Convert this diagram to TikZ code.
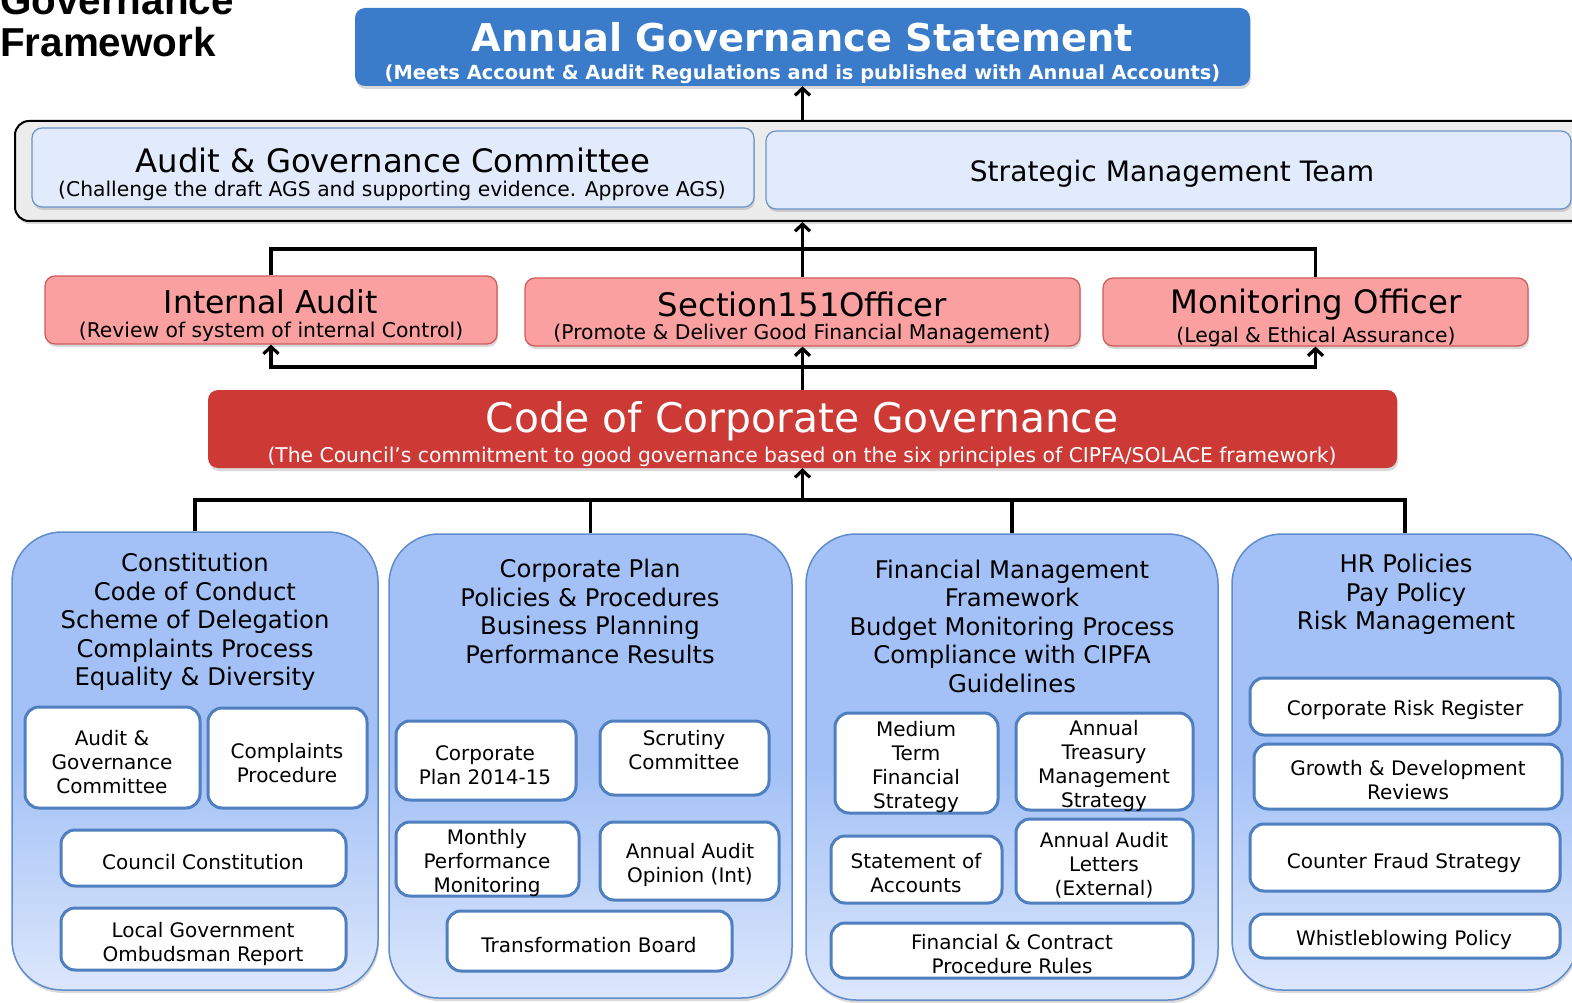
\documentclass[tikz,border=0pt]{standalone}
\usepackage{fontspec}
\setmainfont{DejaVu Sans}
\newfontfamily\titlefont{Liberation Sans}
\usetikzlibrary{arrows.meta,shadows,fit}
\definecolor{agsblue}{RGB}{58,123,202}
\definecolor{contgray}{RGB}{236,236,236}
\definecolor{lbfill}{RGB}{225,235,252}
\definecolor{lbdraw}{RGB}{108,147,201}
\definecolor{pkfill}{RGB}{250,160,160}
\definecolor{pkdraw}{RGB}{205,90,90}
\definecolor{codered}{RGB}{205,58,54}
\definecolor{coltop}{RGB}{163,193,246}
\definecolor{colbot}{RGB}{220,231,252}
\definecolor{coldraw}{RGB}{95,140,205}
\definecolor{ibdraw}{RGB}{79,127,190}
\newcommand\fs[2]{\fontsize{#1}{#2}\selectfont}
\newcommand\bx[6]{\node[#1, fit={(#3,#4) (#5,#6)}, inner sep=0pt] (#2) {};}
\newcommand\tx[5]{\node[txt,#4] (#1) at (#2,#3) {#5};}
\begin{document}
\begin{tikzpicture}[x=1pt,y=-1pt,
 conn/.style={line width=3.2pt, black},
 arr/.style={conn, -{Straight Barb[length=7pt,width=15pt]}},
 shad/.style={drop shadow={opacity=0.3,shadow xshift=1pt,shadow yshift=-3pt}},
 agsbox/.style={fill=agsblue, rounded corners=10pt, shad},
 contbox/.style={fill=contgray, draw=black, line width=2pt, rounded corners=14pt, shad},
 lbbox/.style={fill=lbfill, draw=lbdraw, line width=1.2pt, rounded corners=10pt, shad},
 pkbox/.style={fill=pkfill, draw=pkdraw, line width=1.2pt, rounded corners=10pt, shad},
 codebox/.style={fill=codered, rounded corners=10pt, shad},
 colbox/.style={draw=coldraw, line width=1.5pt, rounded corners=50pt, top color=coltop, bottom color=colbot, middle color=coltop, shad},
 ibox/.style={draw=ibdraw, fill=white, line width=3pt, rounded corners=14pt},
 txt/.style={align=center, inner sep=0pt, yshift=-3pt},
 hd/.style={font=\fs{24.3}{28.5}},
 it/.style={font=\fs{20}{24}},
 big/.style={font=\fs{32.3}{36}},
 sub/.style={font=\fs{20.3}{24}},
]
\useasboundingbox (0,0) rectangle (1572,1003);
\clip (0,0) rectangle (1572,1003);

% title
\node[anchor=base west, inner sep=0pt, font=\titlefont\bfseries\fs{40.4}{44}] (ttl1) at (0,15) {Governance};
\node[anchor=base west, inner sep=0pt, font=\titlefont\bfseries\fs{40.4}{44}] (ttl2) at (0,57) {Framework};

% boxes
\bx{agsbox}{ags}{355}{8}{1250}{86}
\bx{contbox}{cont}{15}{121}{1590}{221}
\bx{lbbox}{agc}{32}{128}{754}{207}
\bx{lbbox}{smt}{766}{131}{1571}{209}
\bx{pkbox}{ia}{45}{276}{497}{344}
\bx{pkbox}{s151}{525}{278}{1080}{346}
\bx{pkbox}{mo}{1103}{278}{1528}{346}
\bx{codebox}{code}{208}{390}{1397}{468}
\bx{colbox}{c1}{12}{532}{378}{990}
\bx{colbox}{c2}{389}{534}{792}{998}
\bx{colbox}{c3}{806}{534}{1218}{1000}
\bx{colbox}{c4}{1232}{534}{1578}{990}

% connectors
\draw[arr] (cont.north) -- (ags.south);
\coordinate (bt) at (802.5,249);
\draw[conn] (ia.north) |- (bt) -| (mo.north);
\draw[arr] (s151.north) -- (cont.south);
\coordinate (bb) at (802.5,367);
\draw[arr] (code.north) -- (s151.south);
\draw[arr] (bb) -| (ia.south);
\draw[arr] (bb) -| (mo.south);
\coordinate (bc) at (802.5,500);
\draw[arr] (bc) -- (code.south);
\draw[conn] (c1.north) |- (bc) -| (c4.north);
\draw[conn] (c2.north) |- (bc);
\draw[conn] (c3.north) |- (bc);

% top texts
\tx{agst}{802.5}{34}{font=\bfseries\fs{38.3}{42}, text=white}{Annual Governance Statement}
\tx{agss}{802.5}{71}{font=\bfseries\fs{19.4}{22}, text=white}{(Meets Account \& Audit Regulations and is published with Annual Accounts)}
\tx{agct}{393}{157}{big}{Audit \& Governance Committee}
\tx{agcs}{392}{188}{sub}{(Challenge the draft AGS and supporting evidence. Approve AGS)}
\tx{smtt}{1172}{171}{font=\fs{28.1}{32}}{Strategic Management Team}
\tx{iat}{271}{299}{font=\fs{31.5}{36}}{Internal Audit}
\tx{ias}{271}{329}{sub}{(Review of system of internal Control)}
\tx{s151t}{802.5}{301}{big}{Section151Officer}
\tx{s151s}{802}{331}{sub}{(Promote \& Deliver Good Financial Management)}
\tx{mot}{1316}{302}{big}{Monitoring Officer}
\tx{mos}{1316}{334}{sub}{(Legal \& Ethical Assurance)}
\tx{codet}{802}{418}{font=\fs{40.8}{44}, text=white}{Code of Corporate Governance}
\tx{codes}{802}{454}{sub, text=white}{(The Council’s commitment to good governance based on the six principles of CIPFA/SOLACE framework)}

% column 1
\tx{c1h}{195}{619}{hd}{Constitution\\Code of Conduct\\Scheme of Delegation\\Complaints Process\\Equality \& Diversity}
\bx{ibox}{b11}{25}{707}{200}{808}
\bx{ibox}{b12}{208}{708}{367}{808}
\bx{ibox}{b13}{61}{830}{346}{886}
\bx{ibox}{b14}{61}{908}{346}{970}
\tx{t11}{112}{759}{it}{Audit \&\\Governance\\Committee}
\tx{t12}{287}{760}{it}{Complaints\\Procedure}
\tx{t13}{203}{859}{it}{Council Constitution}
\tx{t14}{203}{941}{it}{Local Government\\Ombudsman Report}

% column 2
\tx{c2h}{590}{608.5}{hd}{Corporate Plan\\Policies \& Procedures\\Business Planning\\Performance Results}
\bx{ibox}{b21}{396}{721}{576}{800}
\bx{ibox}{b22}{600}{721}{769}{795}
\bx{ibox}{b23}{396}{822}{579}{896}
\bx{ibox}{b24}{600}{822}{779}{900}
\bx{ibox}{b25}{447}{911}{732}{971}
\tx{t21}{485}{762}{it}{Corporate\\Plan 2014-15}
\tx{t22}{684}{747.5}{it}{Scrutiny\\Committee}
\tx{t23}{487}{860}{it}{Monthly\\Performance\\Monitoring}
\tx{t24}{690}{862}{it}{Annual Audit\\Opinion (Int)}
\tx{t25}{589}{942}{it}{Transformation Board}

% column 3
\tx{c3h}{1012}{623}{hd}{Financial Management\\Framework\\Budget Monitoring Process\\Compliance with CIPFA\\Guidelines}
\bx{ibox}{b31}{835}{713}{998}{813}
\bx{ibox}{b32}{1016}{713}{1193}{810}
\bx{ibox}{b33}{831}{836}{1002}{903}
\bx{ibox}{b34}{1016}{819}{1193}{903}
\bx{ibox}{b35}{831}{923}{1193}{978}
\tx{t31}{916}{763.5}{it}{Medium\\Term\\Financial\\Strategy}
\tx{t32}{1104}{762.5}{it}{Annual\\Treasury\\Management\\Strategy}
\tx{t33}{916}{870}{it}{Statement of\\Accounts}
\tx{t34}{1104}{862}{it}{Annual Audit\\Letters\\(External)}
\tx{t35}{1012}{951.5}{it}{Financial \& Contract\\Procedure Rules}

% column 4
\tx{c4h}{1406}{591.5}{hd}{HR Policies\\Pay Policy\\Risk Management}
\bx{ibox}{b41}{1250}{678}{1560}{735}
\bx{ibox}{b42}{1254}{744}{1562}{809}
\bx{ibox}{b43}{1250}{824}{1560}{891}
\bx{ibox}{b44}{1250}{914}{1560}{958}
\tx{t41}{1405}{707}{it}{Corporate Risk Register}
\tx{t42}{1408}{777.5}{it}{Growth \& Development\\Reviews}
\tx{t43}{1404}{860}{it}{Counter Fraud Strategy}
\tx{t44}{1404}{937}{it}{Whistleblowing Policy}
\end{tikzpicture}
\end{document}
